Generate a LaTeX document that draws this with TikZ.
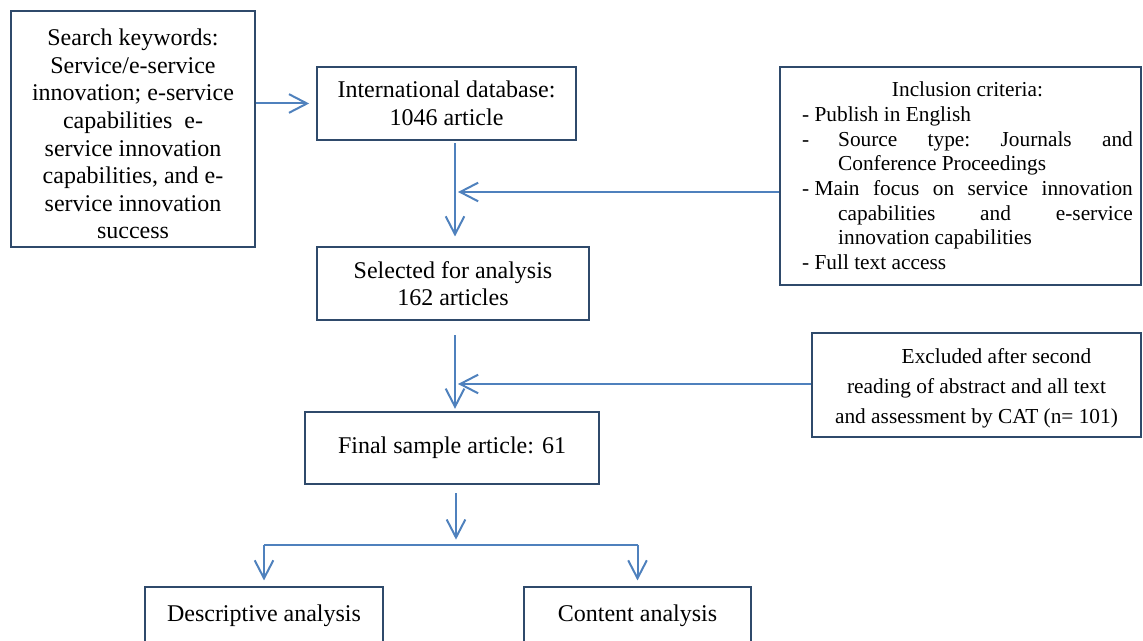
\documentclass[tikz,border=0pt]{standalone}
\usepackage{fontspec}
\setmainfont{Liberation Serif}
\usetikzlibrary{arrows.meta}
\definecolor{boxblue}{HTML}{2F4A6B}
\definecolor{arrowblue}{HTML}{4F81BD}

\begin{document}
\begin{tikzpicture}[x=0.75pt,y=-0.75pt,
    box/.style={draw=boxblue, line width=1.8pt, fill=white, inner sep=0pt, align=center, font=\fontsize{18}{20.7}\selectfont},
    flow/.style={draw=arrowblue, line width=1.5pt, -{Straight Barb[length=13.5pt,width=14pt]}},
    split/.style={draw=arrowblue, line width=1.1pt}]

  \useasboundingbox (0,0) rectangle (1143,641);

  \node[box, minimum width=183pt, minimum height=177pt] (kw) at (133,129)
    {\rule{0pt}{20pt}Search keywords:\\ Service/e-service\\ innovation; e-service\\ capabilities~ e-\\ service innovation\\ capabilities, and e-\\ service innovation\\ success};
  \node[box, minimum width=194.25pt, minimum height=54.75pt] (intl) at (446.5,103.5) {International database:\\ 1046 article};
  \node[box, minimum width=204pt, minimum height=54.75pt] (sel) at (453,283.5) {Selected for analysis\\ 162 articles};
  \node[box, minimum width=220.5pt, minimum height=54pt] (final) at (452,448) {Final sample article: 61};
  \node[box, minimum width=270.75pt, minimum height=163.5pt] (incl) at (960.5,176)
    {\hspace*{10.5pt}\parbox{248pt}{\fontsize{16}{18.5}\selectfont
      \centerline{Inclusion criteria:}
      - Publish in English\\
      \makebox[27pt][l]{-}Source\hfill type:\hfill Journals\hfill and\\
      \hspace*{27pt}Conference Proceedings\\
      - Main\hfill focus\hfill on\hfill service\hfill innovation\\
      \hspace*{27pt}capabilities\hfill and\hfill e-service\\
      \hspace*{27pt}innovation capabilities\\
      - Full text access}};
  \node[box, minimum width=246.75pt, minimum height=78pt, font=\fontsize{16}{22.5}\selectfont] (excl) at (976.5,385)
    {\rule{0pt}{16pt}\hspace*{30pt}Excluded after second\\ reading of abstract and all text\\ and assessment by CAT (n=~101)};
  \node[box, minimum width=178.5pt, minimum height=43.5pt] (desc) at (264,616) {Descriptive analysis};
  \node[box, minimum width=170.25pt, minimum height=43.5pt] (cont) at (637.5,616) {Content analysis};

  % arrow ends
  \coordinate (axis) at (455,0);
  \coordinate (inTip) at (458,192);
  \coordinate (exTip) at (458,384);
  \coordinate (fork) at (456,545);

  \draw[flow, shorten >=5pt] (kw.east |- intl.west) -- (intl.west);
  \draw[flow, shorten <=1.5pt, shorten >=7pt] (intl.south -| axis) -- (sel.north -| axis);
  \draw[flow] (incl.west |- inTip) -- (inTip);
  \draw[flow, shorten <=10.5pt, shorten >=1.5pt] (sel.south -| axis) -- (final.north -| axis);
  \draw[flow] (excl.west |- exTip) -- (exTip);
  \draw[flow, shorten <=6pt, shorten >=4pt] (final.south -| fork) -- (fork);
  \draw[split] (desc.north |- fork) -- (cont.north |- fork);
  \draw[flow, shorten >=4pt] (desc.north |- fork) -- (desc.north);
  \draw[flow, shorten >=4pt] (cont.north |- fork) -- (cont.north);
\end{tikzpicture}
\end{document}
